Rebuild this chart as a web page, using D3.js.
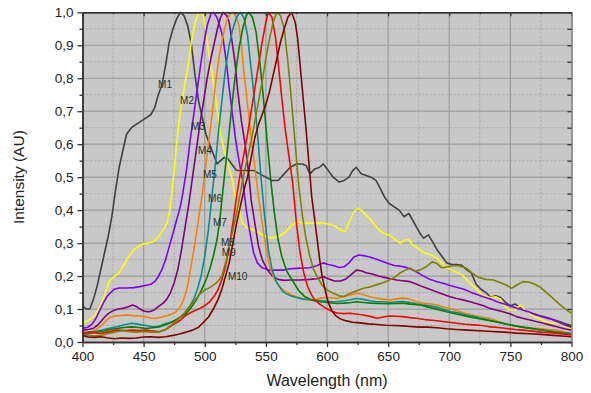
<!DOCTYPE html>
<html><head><meta charset="utf-8">
<script src="https://cdn.jsdelivr.net/npm/d3@7"></script>
<style>body{margin:0;background:#fff}svg{display:block}</style>
</head><body><svg id="c" width="591" height="393"></svg>
<script>
const xTicks = [400,450,500,550,600,650,700,750,800];
const yTicks = [0,0.1,0.2,0.3,0.4,0.5,0.6,0.7,0.8,0.9,1.0];
const seriesNames = ["M1","M2","M3","M4","M5","M6","M7","M8","M9","M10"];
const seriesColors = ["#404040","#ffff00","#8000ff","#800080","#ff8000","#009090","#008000","#ff0000","#808000","#800000"];

const M1 = [[400,0.11],[403,0.10],[406,0.10],[409,0.13],[412,0.17],[415,0.22],[418,0.27],[421,0.32],[424,0.38],[427,0.46],[430,0.53],[433,0.58],[436,0.63],[440,0.65],[444,0.66],[448,0.67],[452,0.68],[456,0.69],[459,0.71],[462,0.75],[465,0.78],[468,0.84],[471,0.91],[474,0.95],[477,0.98],[480,1.0],[483,0.99],[486,0.96],[489,0.905],[492,0.81],[495,0.73],[498,0.68],[501,0.63],[504,0.60],[507,0.57],[510,0.54],[513,0.55],[516,0.56],[519,0.555],[522,0.54],[526,0.52],[530,0.52],[535,0.52],[540,0.52],[545,0.51],[550,0.50],[555,0.49],[560,0.49],[565,0.51],[570,0.53],[575,0.54],[580,0.54],[583,0.535],[586,0.51],[590,0.525],[594,0.53],[597,0.54],[601,0.52],[605,0.50],[610,0.485],[614,0.49],[618,0.50],[621,0.52],[624,0.53],[628,0.51],[632,0.505],[636,0.50],[640,0.49],[643,0.47],[647,0.44],[651,0.42],[655,0.41],[659,0.40],[663,0.38],[667,0.39],[670,0.37],[673,0.35],[676,0.33],[679,0.315],[683,0.325],[687,0.30],[690,0.28],[694,0.26],[698,0.24],[702,0.235],[706,0.235],[710,0.233],[714,0.22],[718,0.21],[722,0.175],[726,0.16],[730,0.15],[734,0.135],[738,0.14],[742,0.135],[746,0.12],[750,0.11],[754,0.115],[758,0.105],[762,0.095],[766,0.087],[770,0.085],[775,0.078],[780,0.072],[785,0.068],[790,0.062],[795,0.055],[800,0.05]];
const M2 = [[400,0.058],[405,0.065],[410,0.08],[414,0.105],[418,0.14],[422,0.185],[426,0.198],[430,0.21],[434,0.235],[438,0.26],[442,0.28],[446,0.29],[450,0.298],[454,0.30],[458,0.304],[462,0.318],[466,0.34],[469,0.36],[471,0.39],[473,0.45],[475,0.52],[477,0.60],[479,0.67],[481,0.72],[484,0.79],[487,0.85],[489,0.91],[492,0.965],[494,0.99],[496,1.0],[499,0.99],[501,0.94],[504,0.86],[507,0.79],[510,0.71],[513,0.63],[516,0.58],[519,0.54],[522,0.50],[525,0.44],[528,0.40],[531,0.36],[535,0.345],[540,0.34],[545,0.33],[550,0.32],[555,0.315],[560,0.32],[565,0.33],[570,0.35],[575,0.365],[580,0.362],[586,0.36],[592,0.362],[598,0.36],[603,0.356],[607,0.35],[611,0.34],[615,0.335],[619,0.37],[622,0.395],[625,0.405],[628,0.40],[632,0.385],[636,0.37],[640,0.35],[644,0.335],[648,0.328],[652,0.322],[656,0.31],[660,0.30],[664,0.31],[667,0.31],[670,0.295],[674,0.285],[678,0.274],[682,0.268],[686,0.262],[690,0.254],[694,0.24],[698,0.225],[702,0.218],[706,0.212],[710,0.205],[714,0.19],[718,0.175],[722,0.162],[726,0.145],[730,0.137],[734,0.135],[738,0.137],[742,0.13],[746,0.105],[750,0.097],[754,0.098],[758,0.112],[762,0.097],[766,0.085],[770,0.077],[775,0.068],[780,0.06],[785,0.058],[790,0.057],[795,0.048],[800,0.04]];
const M3 = [[400,0.042],[404,0.044],[408,0.055],[411,0.072],[414,0.095],[417,0.118],[420,0.138],[423,0.15],[426,0.16],[430,0.164],[436,0.164],[442,0.165],[447,0.168],[452,0.172],[456,0.175],[459,0.183],[462,0.198],[465,0.22],[468,0.25],[471,0.29],[474,0.33],[477,0.37],[480,0.41],[482,0.45],[485,0.52],[488,0.61],[491,0.69],[494,0.77],[497,0.85],[499,0.90],[502,0.96],[505,0.995],[507,1.0],[510,0.985],[513,0.95],[515,0.92],[518,0.84],[520,0.77],[523,0.68],[525,0.62],[528,0.55],[531,0.49],[534,0.40],[537,0.33],[540,0.27],[543,0.24],[547,0.225],[552,0.218],[558,0.218],[564,0.218],[570,0.222],[578,0.224],[586,0.225],[592,0.232],[597,0.24],[601,0.235],[605,0.232],[610,0.226],[614,0.228],[618,0.24],[622,0.258],[626,0.264],[630,0.262],[635,0.258],[640,0.252],[645,0.245],[650,0.238],[655,0.232],[660,0.23],[664,0.227],[668,0.222],[673,0.213],[678,0.202],[684,0.19],[690,0.183],[695,0.178],[700,0.172],[706,0.166],[712,0.16],[717,0.152],[722,0.145],[728,0.137],[734,0.13],[739,0.122],[745,0.115],[750,0.109],[755,0.103],[760,0.097],[766,0.09],[771,0.082],[776,0.078],[782,0.072],[788,0.062],[794,0.052],[800,0.045]];
const M4 = [[400,0.036],[405,0.038],[409,0.042],[412,0.05],[415,0.062],[418,0.075],[421,0.086],[425,0.095],[429,0.1],[433,0.102],[437,0.106],[441,0.112],[444,0.108],[447,0.1],[450,0.094],[453,0.092],[456,0.093],[459,0.098],[462,0.107],[466,0.118],[469,0.13],[472,0.15],[475,0.18],[478,0.22],[481,0.28],[484,0.35],[487,0.42],[490,0.5],[493,0.58],[496,0.66],[499,0.73],[502,0.8],[505,0.86],[508,0.91],[511,0.96],[513,0.985],[515,1.0],[518,0.99],[520,0.97],[522,0.92],[525,0.84],[527,0.76],[530,0.67],[533,0.60],[536,0.51],[538,0.43],[541,0.36],[544,0.29],[547,0.25],[550,0.228],[553,0.21],[556,0.198],[560,0.19],[565,0.187],[570,0.188],[578,0.188],[586,0.19],[592,0.192],[597,0.198],[601,0.192],[606,0.185],[611,0.185],[615,0.19],[620,0.205],[624,0.218],[628,0.216],[632,0.21],[637,0.206],[642,0.2],[647,0.196],[652,0.192],[657,0.188],[662,0.186],[668,0.183],[673,0.176],[678,0.168],[684,0.16],[690,0.152],[695,0.145],[700,0.138],[706,0.132],[712,0.127],[717,0.122],[722,0.117],[728,0.11],[733,0.102],[738,0.097],[744,0.092],[750,0.085],[755,0.077],[760,0.072],[766,0.067],[771,0.062],[777,0.057],[782,0.052],[788,0.046],[794,0.04],[800,0.036]];
const M5 = [[400,0.026],[404,0.028],[408,0.032],[411,0.038],[414,0.046],[417,0.056],[420,0.067],[423,0.075],[426,0.079],[430,0.08],[436,0.082],[442,0.08],[447,0.079],[452,0.076],[456,0.073],[460,0.072],[464,0.075],[468,0.079],[472,0.083],[476,0.09],[480,0.107],[483,0.13],[486,0.17],[489,0.235],[492,0.3],[494,0.35],[496,0.40],[498,0.45],[500,0.51],[503,0.60],[506,0.69],[509,0.79],[512,0.87],[515,0.93],[518,0.975],[521,0.998],[523,1.0],[526,0.985],[528,0.96],[530,0.90],[532,0.82],[535,0.72],[538,0.62],[541,0.53],[544,0.44],[547,0.36],[550,0.29],[553,0.23],[557,0.19],[561,0.168],[565,0.155],[570,0.145],[575,0.137],[580,0.132],[586,0.127],[592,0.13],[598,0.135],[604,0.134],[608,0.132],[614,0.138],[619,0.142],[624,0.148],[629,0.145],[635,0.137],[640,0.133],[646,0.13],[651,0.127],[656,0.13],[661,0.133],[665,0.132],[669,0.128],[673,0.122],[678,0.118],[684,0.116],[690,0.112],[696,0.105],[702,0.1],[708,0.093],[714,0.086],[720,0.08],[726,0.076],[733,0.072],[740,0.062],[746,0.055],[752,0.05],[760,0.046],[768,0.042],[775,0.04],[782,0.038],[788,0.036],[794,0.03],[800,0.021]];
const M6 = [[400,0.022],[404,0.024],[408,0.028],[412,0.033],[416,0.036],[420,0.04],[424,0.043],[428,0.046],[432,0.05],[436,0.054],[440,0.057],[444,0.055],[448,0.052],[452,0.05],[456,0.047],[460,0.046],[464,0.05],[468,0.056],[472,0.06],[476,0.066],[480,0.075],[484,0.09],[488,0.11],[491,0.13],[494,0.16],[497,0.2],[500,0.26],[503,0.34],[505,0.41],[507,0.48],[509,0.55],[511,0.63],[514,0.73],[517,0.83],[520,0.9],[523,0.95],[526,0.985],[529,1.0],[532,0.985],[535,0.93],[537,0.86],[540,0.76],[543,0.64],[546,0.5],[549,0.38],[552,0.28],[555,0.22],[559,0.18],[564,0.152],[570,0.14],[575,0.135],[580,0.13],[586,0.128],[592,0.126],[598,0.124],[604,0.122],[608,0.122],[614,0.125],[619,0.128],[624,0.132],[629,0.13],[635,0.125],[640,0.122],[646,0.122],[652,0.12],[658,0.122],[662,0.123],[668,0.12],[673,0.116],[678,0.113],[684,0.11],[690,0.105],[696,0.098],[702,0.092],[708,0.088],[714,0.082],[720,0.078],[726,0.072],[733,0.066],[740,0.06],[746,0.054],[752,0.05],[760,0.045],[768,0.04],[775,0.036],[782,0.033],[788,0.03],[794,0.028],[800,0.025]];
const M7 = [[400,0.026],[405,0.028],[410,0.03],[414,0.031],[418,0.034],[422,0.038],[428,0.041],[434,0.044],[440,0.046],[446,0.044],[452,0.041],[457,0.043],[463,0.046],[468,0.052],[472,0.058],[476,0.066],[480,0.075],[485,0.087],[489,0.105],[493,0.127],[497,0.155],[501,0.188],[504,0.22],[507,0.26],[510,0.31],[512,0.36],[514,0.43],[516,0.5],[519,0.6],[522,0.71],[525,0.81],[528,0.89],[531,0.95],[534,0.99],[536,1.0],[539,0.985],[542,0.94],[545,0.85],[548,0.74],[551,0.61],[554,0.49],[557,0.39],[560,0.31],[563,0.26],[567,0.215],[572,0.185],[577,0.155],[582,0.137],[588,0.127],[594,0.122],[600,0.12],[608,0.117],[614,0.118],[620,0.12],[624,0.122],[630,0.12],[636,0.118],[643,0.117],[650,0.116],[656,0.117],[662,0.118],[668,0.115],[676,0.112],[684,0.105],[692,0.097],[703,0.087],[712,0.08],[720,0.074],[730,0.067],[740,0.06],[750,0.052],[758,0.046],[766,0.042],[775,0.037],[785,0.031],[792,0.028],[800,0.026]];
const M8 = [[400,0.028],[406,0.03],[414,0.026],[420,0.03],[428,0.036],[435,0.035],[441,0.036],[447,0.035],[452,0.036],[458,0.033],[463,0.031],[468,0.038],[474,0.052],[480,0.066],[485,0.082],[490,0.092],[496,0.102],[500,0.11],[504,0.122],[508,0.14],[511,0.16],[514,0.19],[517,0.23],[520,0.29],[523,0.36],[526,0.44],[529,0.51],[532,0.57],[535,0.63],[538,0.70],[541,0.77],[544,0.84],[547,0.91],[550,0.97],[552,1.0],[555,0.985],[558,0.92],[560,0.85],[563,0.74],[566,0.64],[569,0.56],[572,0.48],[575,0.36],[578,0.27],[581,0.21],[584,0.17],[587,0.145],[590,0.127],[594,0.115],[598,0.105],[603,0.095],[608,0.088],[614,0.086],[619,0.087],[625,0.084],[630,0.082],[636,0.077],[641,0.072],[646,0.076],[651,0.079],[657,0.078],[662,0.077],[668,0.074],[673,0.072],[680,0.068],[686,0.066],[693,0.063],[700,0.06],[706,0.057],[713,0.054],[720,0.052],[727,0.05],[733,0.046],[740,0.044],[747,0.041],[754,0.038],[760,0.036],[768,0.033],[775,0.03],[782,0.028],[788,0.026],[794,0.024],[800,0.021]];
const M9 = [[400,0.022],[405,0.02],[410,0.018],[415,0.02],[420,0.025],[426,0.03],[432,0.034],[438,0.032],[444,0.03],[450,0.032],[456,0.03],[462,0.03],[468,0.038],[474,0.055],[480,0.075],[485,0.095],[490,0.118],[496,0.145],[500,0.158],[504,0.165],[508,0.175],[511,0.185],[514,0.2],[517,0.24],[520,0.29],[523,0.34],[526,0.39],[529,0.45],[532,0.51],[535,0.56],[538,0.61],[541,0.67],[544,0.73],[547,0.79],[550,0.86],[553,0.92],[556,0.97],[559,1.0],[562,0.99],[565,0.95],[568,0.85],[571,0.73],[574,0.6],[577,0.47],[580,0.38],[583,0.31],[586,0.26],[589,0.22],[592,0.198],[596,0.172],[600,0.158],[605,0.148],[610,0.14],[614,0.138],[619,0.148],[624,0.155],[630,0.163],[636,0.168],[641,0.174],[646,0.18],[651,0.188],[656,0.198],[660,0.21],[664,0.218],[668,0.224],[672,0.215],[676,0.218],[681,0.228],[686,0.243],[690,0.238],[694,0.225],[699,0.228],[704,0.232],[709,0.23],[714,0.224],[719,0.208],[724,0.196],[730,0.19],[736,0.188],[742,0.18],[747,0.172],[751,0.163],[755,0.172],[760,0.183],[765,0.182],[770,0.175],[775,0.165],[780,0.148],[785,0.132],[790,0.115],[795,0.1],[800,0.087]];
const M10 = [[400,0.02],[405,0.015],[410,0.014],[415,0.016],[420,0.013],[426,0.01],[432,0.012],[438,0.011],[444,0.012],[450,0.015],[456,0.016],[462,0.014],[468,0.016],[474,0.02],[480,0.025],[485,0.03],[490,0.036],[495,0.045],[499,0.06],[503,0.075],[507,0.1],[511,0.13],[514,0.16],[517,0.2],[520,0.24],[523,0.3],[526,0.36],[529,0.41],[532,0.46],[535,0.5],[538,0.56],[541,0.62],[544,0.66],[547,0.69],[550,0.72],[553,0.76],[556,0.81],[559,0.86],[562,0.91],[565,0.95],[568,0.985],[571,1.0],[574,0.97],[576,0.92],[578,0.84],[580.5,0.74],[583,0.64],[585.5,0.53],[587.5,0.44],[590,0.37],[592,0.31],[594,0.25],[596,0.2],[598,0.165],[601,0.12],[604,0.095],[607,0.08],[611,0.07],[616,0.064],[621,0.06],[627,0.058],[634,0.055],[641,0.053],[648,0.051],[655,0.05],[662,0.049],[668,0.047],[675,0.045],[682,0.045],[690,0.043],[698,0.04],[706,0.038],[715,0.036],[725,0.034],[735,0.032],[745,0.03],[755,0.027],[765,0.025],[775,0.023],[785,0.02],[792,0.018],[800,0.016]];
const seriesData = [M1,M2,M3,M4,M5,M6,M7,M8,M9,M10];
// label anchors in data units (nm, intensity)
const labelNm = [461.8,479.8,488.8,494.5,498.6,502.7,506.7,513.3,514,519];
const labelVal = [0.77,0.721,0.642,0.57,0.497,0.424,0.352,0.29,0.26,0.188];

const svg = d3.select("#c");
const L=82.5, R=571.5, T=12.3, B=342;
const x = d3.scaleLinear().domain([400,800]).range([L,R]);
const y = d3.scaleLinear().domain([0,1]).range([B,T]);
const fmt = d => d3.format(".1f")(d).replace(".", ",");
const font = "'Liberation Sans', Arial, sans-serif";

svg.append("rect").attr("x",L).attr("y",T).attr("width",R-L).attr("height",B-T).attr("fill","#c8c8c8");

// minor grid (dotted)
const gx = svg.append("g");
d3.range(425,800,50).forEach(v=>gx.append("line").attr("x1",x(v)).attr("x2",x(v)).attr("y1",T).attr("y2",B).attr("stroke","#a8a8a8").attr("stroke-dasharray","2,2"));
d3.range(0.05,1,0.1).forEach(v=>gx.append("line").attr("x1",L).attr("x2",R).attr("y1",y(v)).attr("y2",y(v)).attr("stroke","#a8a8a8").attr("stroke-dasharray","2,2"));
// major grid
xTicks.slice(1,-1).forEach(v=>gx.append("line").attr("x1",x(v)).attr("x2",x(v)).attr("y1",T).attr("y2",B).attr("stroke","#9c9c9c").attr("stroke-width",1.2));
yTicks.slice(1,-1).forEach(v=>gx.append("line").attr("x1",L).attr("x2",R).attr("y1",y(v)).attr("y2",y(v)).attr("stroke","#9c9c9c").attr("stroke-width",1.2));

// series
const line = d3.line().x(d=>x(d[0])).y(d=>y(d[1]));
svg.append("clipPath").attr("id","pc").append("rect").attr("x",L).attr("y",T-1).attr("width",R-L).attr("height",B-T+1);
const sg = svg.append("g").attr("clip-path","url(#pc)");
seriesData.forEach((s,i)=>{
  sg.append("path").datum(s).attr("d",line).attr("fill","none").attr("stroke",seriesColors[i]).attr("stroke-width",1.6).attr("stroke-linejoin","round");
});

// labels
seriesNames.forEach((n,i)=>{
  svg.append("text").attr("x",x(labelNm[i])).attr("y",y(labelVal[i])).text(n)
    .attr("font-family",font).attr("font-size",10).attr("fill","#2a2a2a");
});

// axes
const axStyle = g => { g.selectAll("path").attr("stroke","#333").attr("stroke-width",1.5); g.selectAll("line").attr("stroke","#333").attr("stroke-width",1.3); g.selectAll("text").attr("font-family",font).attr("font-size",13.5).attr("fill","#222"); };
svg.append("g").attr("transform",`translate(0,${B})`).call(d3.axisBottom(x).tickValues(xTicks).tickSize(5).tickPadding(4).tickSizeOuter(0)).call(axStyle);
svg.append("g").attr("transform",`translate(0,${B})`).call(d3.axisBottom(x).tickValues(d3.range(425,800,50)).tickSize(3).tickFormat("").tickSizeOuter(0)).call(axStyle);
svg.append("g").attr("transform",`translate(${L},0)`).call(d3.axisLeft(y).tickValues(yTicks).tickFormat(fmt).tickSize(5).tickPadding(4).tickSizeOuter(0)).call(axStyle);
svg.append("g").attr("transform",`translate(${L},0)`).call(d3.axisLeft(y).tickValues(d3.range(0.05,1,0.1)).tickSize(3).tickFormat("").tickSizeOuter(0)).call(axStyle);
svg.append("g").attr("transform",`translate(0,${T})`).call(d3.axisBottom(x).tickValues(xTicks).tickSize(4).tickFormat("").tickSizeOuter(0)).call(axStyle).call(g=>g.select("path").attr("stroke","#555"));
svg.append("g").attr("transform",`translate(0,${T})`).call(d3.axisBottom(x).tickValues(d3.range(425,800,50)).tickSize(2).tickFormat("").tickSizeOuter(0)).call(axStyle);
svg.append("g").attr("transform",`translate(${R},0)`).call(d3.axisLeft(y).tickValues(d3.range(0,1.001,0.05)).tickSize(4).tickFormat("").tickSizeOuter(0)).call(axStyle).call(g=>g.select("path").attr("stroke","#777"));

// titles
svg.append("text").attr("x",(L+R)/2).attr("y",386).attr("text-anchor","middle").attr("font-family",font).attr("font-size",16).attr("fill","#222").text("Wavelength (nm)");
svg.append("text").attr("transform",`translate(24,${(T+B)/2}) rotate(-90)`).attr("text-anchor","middle").attr("font-family",font).attr("font-size",15.5).attr("fill","#222").text("Intensity (AU)");
</script></body></html>
